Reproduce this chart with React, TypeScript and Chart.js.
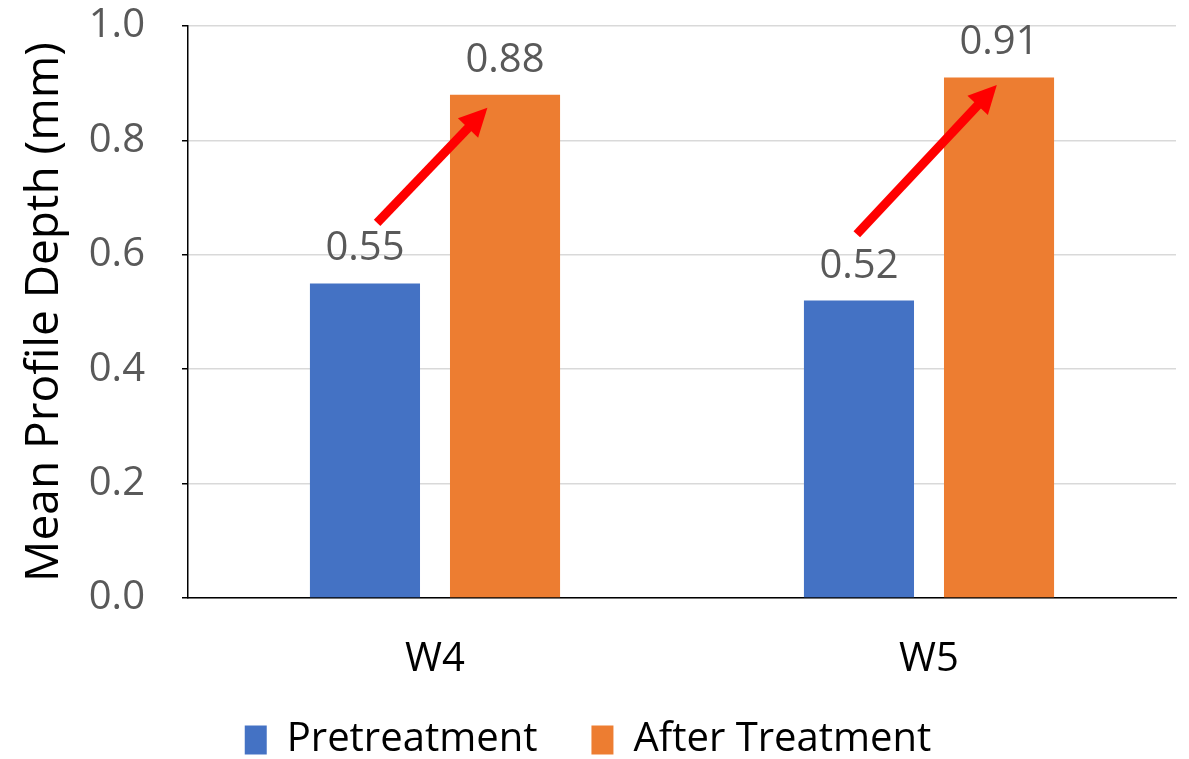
import { useEffect, useRef } from 'react';
import { Chart, registerables } from 'chart.js';

Chart.register(...registerables);

const categories = ['W4', 'W5'];
const seriesNames = ['Pretreatment', 'After Treatment'];
const pretreatment = [0.55, 0.52];
const afterTreatment = [0.88, 0.91];
const yTickValues = [0, 0.2, 0.4, 0.6, 0.8, 1.0];
// red arrows: from above the pretreatment bar to the after-treatment bar (values on the y scale)
const arrowFromValues = [0.656, 0.636];
const arrowToValues = [0.857, 0.897];
const arrowFromFrac = [0.61, 0.48];
const arrowToFrac = [0.34, 0.48];

const FONT = "'Open Sans', 'Noto Sans', sans-serif";
const GRAY = '#595959';

const overlayPlugin = {
  id: 'overlay',
  afterDatasetsDraw(chart: any) {
    const ctx = chart.ctx;
    const y = chart.scales.y;
    ctx.save();
    ctx.font = `40px ${FONT}`;
    ctx.fillStyle = GRAY;
    ctx.textAlign = 'center';
    ctx.textBaseline = 'alphabetic';
    chart.data.datasets.forEach((ds: any, di: number) => {
      const meta = chart.getDatasetMeta(di);
      meta.data.forEach((bar: any, i: number) => {
        ctx.fillText(Number(ds.data[i]).toFixed(2), bar.x, bar.y - 23);
      });
    });
    const m0 = chart.getDatasetMeta(0);
    const m1 = chart.getDatasetMeta(1);
    categories.forEach((_, i) => {
      const b0 = m0.data[i];
      const b1 = m1.data[i];
      const x0 = b0.x - b0.width / 2 + b0.width * arrowFromFrac[i];
      const x1 = b1.x - b1.width / 2 + b1.width * arrowToFrac[i];
      const y0 = y.getPixelForValue(arrowFromValues[i]);
      const y1 = y.getPixelForValue(arrowToValues[i]);
      const ang = Math.atan2(y1 - y0, x1 - x0);
      const headLen = 28;
      const headHalf = 14;
      const sx = x1 - Math.cos(ang) * (headLen - 2);
      const sy = y1 - Math.sin(ang) * (headLen - 2);
      ctx.strokeStyle = '#FF0000';
      ctx.fillStyle = '#FF0000';
      ctx.lineWidth = 9;
      ctx.lineCap = 'butt';
      ctx.beginPath();
      ctx.moveTo(x0, y0);
      ctx.lineTo(sx, sy);
      ctx.stroke();
      const bx = x1 - Math.cos(ang) * headLen;
      const by = y1 - Math.sin(ang) * headLen;
      ctx.beginPath();
      ctx.moveTo(x1, y1);
      ctx.lineTo(bx + Math.sin(ang) * headHalf, by - Math.cos(ang) * headHalf);
      ctx.lineTo(bx - Math.sin(ang) * headHalf, by + Math.cos(ang) * headHalf);
      ctx.closePath();
      ctx.fill();
    });
    ctx.restore();
  },
};

export default function App() {
  const ref = useRef<HTMLCanvasElement>(null);
  useEffect(() => {
    document.body.style.margin = '0';
    const chart = new Chart(ref.current!, {
      type: 'bar',
      data: {
        labels: categories,
        datasets: [
          {
            label: seriesNames[0],
            data: pretreatment,
            backgroundColor: '#4472C4',
            categoryPercentage: 0.567,
            barPercentage: 0.786,
          },
          {
            label: seriesNames[1],
            data: afterTreatment,
            backgroundColor: '#ED7D31',
            categoryPercentage: 0.567,
            barPercentage: 0.786,
          },
        ],
      },
      options: {
        animation: false,
        responsive: false,
        layout: { padding: { top: 26, right: 13, left: 0, bottom: -11 } },
        plugins: {
          legend: {
            position: 'bottom',
            labels: {
              font: { family: FONT, size: 40 },
              color: '#000000',
              boxWidth: 22,
              boxHeight: 29,
              padding: 54,
            },
          },
          tooltip: { enabled: false },
        },
        scales: {
          x: {
            grid: { display: false },
            border: { display: true, color: '#000000', width: 1.5 },
            ticks: { font: { family: FONT, size: 40 }, color: '#000000', padding: 30 },
            afterFit: (s: any) => {
              s.height = 68;
              s._computeLabelArea = () => undefined;
            },
          },
          y: {
            min: 0,
            max: 1,
            afterBuildTicks: (s: any) => { s.ticks = yTickValues.map((v) => ({ value: v })); },
            grid: { color: '#D9D9D9', lineWidth: 1.5, tickColor: '#000000', tickLength: 6 },
            border: { display: true, color: '#000000', width: 1.5 },
            ticks: {
              font: { family: FONT, size: 40 },
              color: GRAY,
              padding: 37,
              callback: (v: any) => Number(v).toFixed(1),
            },
            title: {
              display: true,
              text: 'Mean Profile Depth (mm)',
              font: { family: FONT, size: 46 },
              color: '#000000',
              padding: { top: 17, bottom: 0 },
            },
            afterFit: (s: any) => {
              s.width = 188;
              s.paddingTop = 0;
              s.paddingBottom = 0;
            },
          },
        },
      },
      plugins: [overlayPlugin],
    });
    return () => chart.destroy();
  }, []);
  return (
    <div style={{ position: 'absolute', left: 0, top: 0, width: 1189, height: 759 }}>
      <canvas ref={ref} width={1189} height={759} style={{ width: 1189, height: 759 }} />
    </div>
  );
}
